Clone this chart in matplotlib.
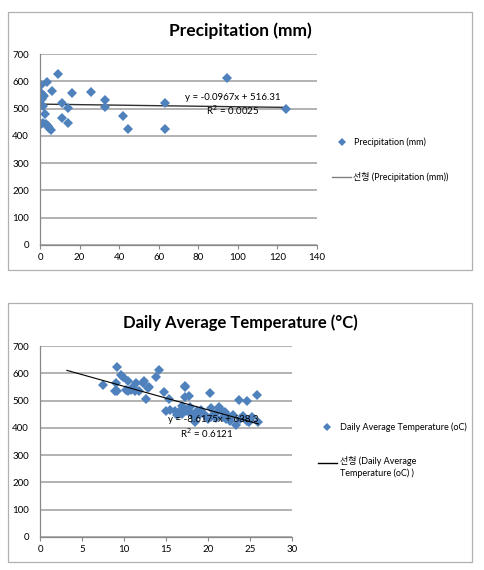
import numpy as np
import matplotlib
matplotlib.use("Agg")
import matplotlib.pyplot as plt
from matplotlib.patches import Rectangle
from matplotlib.lines import Line2D

plt.rcParams['font.family'] = ['Lato', 'Noto Sans CJK KR', 'DejaVu Sans']

# precipitation (mm) vs value
prec_x = [0.3, 3.4, 0.5, 1.5, 0.8, 2.0, 0.5, 1.7, 2.7, 0.3, 1.5, 3.0, 4.0, 4.7, 5.4,
          5.9, 9.3, 11.1, 11.1, 14.3, 14.3, 16.2, 25.6, 32.6, 32.6, 42.0, 44.4,
          63.4, 63.4, 94.6, 124.5]
prec_y = [586, 596, 558, 551, 535, 546, 512, 509, 479, 442, 448, 443, 436, 428, 421,
          566, 625, 519, 464, 503, 448, 557, 561, 530, 506, 474, 424,
          522, 425, 612, 500]
prec_fit = (-0.0967, 516.31)

# daily average temperature vs value
temp_x = [7.5, 9.2, 9.0, 8.9, 9.2, 9.7, 9.9, 10.2, 10.5, 10.8, 10.5, 11.1, 11.3, 11.4,
          11.8, 12.4, 12.3, 12.6, 13.0, 12.8, 13.8, 14.2, 14.8, 15.4, 15.0, 15.5,
          16.1, 16.5, 16.9, 17.3, 17.3, 17.3, 17.7, 16.9, 17.5, 17.9, 18.1, 18.5,
          18.7, 18.5, 20.2, 20.3, 20.4, 19.2, 19.6, 20.9, 21.3, 21.6, 21.8, 22.0,
          22.2, 22.6, 23.0, 23.3, 23.7, 24.6, 23.8, 24.2, 24.6, 24.9, 25.2, 25.8,
          26.0, 19.0, 20.0, 21.0, 22.4, 16.3, 17.0]
temp_y = [557, 624, 563, 536, 536, 594, 585, 539, 573, 539, 536, 551, 536, 566,
          536, 573, 563, 505, 551, 545, 585, 612, 533, 505, 463, 465,
          463, 457, 451, 555, 548, 512, 517, 480, 460, 478, 451, 441,
          460, 423, 529, 472, 441, 465, 446, 455, 475, 465, 441, 459,
          434, 426, 447, 410, 502, 498, 431, 444, 426, 420, 438, 522,
          423, 452, 432, 436, 445, 448, 470]
temp_fit = (-8.6175, 638.3)
temp_fit_range = (3.2, 26.0)

blue = '#4F81BD'
grid_c = '#a6a6a6'
W, H = 484, 570

fig = plt.figure(figsize=(W / 100, H / 100), dpi=100)


def fx(px):
    return px / W


def fy(py):
    return 1 - py / H


# chart area borders
for top, bot in [(12, 270), (303, 562)]:
    fig.patches.append(Rectangle((fx(8), fy(bot)), 464 / W, (bot - top) / H,
                                 transform=fig.transFigure, fill=False,
                                 edgecolor='#b0b0b0', linewidth=0.9))


def style_axes(ax, xmax, xstep):
    ax.set_xlim(0, xmax)
    ax.set_ylim(0, 700)
    ax.set_xticks(np.arange(0, xmax + 1, xstep))
    ax.set_yticks(np.arange(0, 701, 100))
    ax.yaxis.grid(True, color=grid_c, linewidth=1.2)
    ax.set_axisbelow(True)
    for s in ['top', 'right']:
        ax.spines[s].set_visible(False)
    for s in ['left', 'bottom']:
        ax.spines[s].set_color('#888888')
        ax.spines[s].set_linewidth(0.9)
    ax.tick_params(axis='both', labelsize=7, length=3, color='#888888', pad=3)
    ax.tick_params(axis='y', length=0, pad=8)


def legend_entries(mx, my, tx1, lx0, lx1, ly, tx2, ty2, label1, label2, color_line):
    # marker entry
    fig.add_artist(Line2D([fx(mx)], [fy(my)], transform=fig.transFigure,
                          marker='D', markersize=4, color=blue, markeredgewidth=0,
                          linestyle='none'))
    fig.text(fx(tx1), fy(my), label1, ha='left', va='center', fontsize=6.5)
    # trendline entry
    fig.add_artist(Line2D([fx(lx0), fx(lx1)], [fy(ly), fy(ly)],
                          transform=fig.transFigure, color=color_line,
                          linewidth=1.0))
    fig.text(fx(tx2), fy(ty2), label2, ha='left',
             va='top' if '\n' in label2 else 'center',
             fontsize=6.5, linespacing=1.35)


# top chart
ax1 = fig.add_axes([fx(40), fy(245), 277 / W, 191 / H])
style_axes(ax1, 140, 20)
xs = np.array([min(prec_x), max(prec_x)])
ax1.plot(xs, prec_fit[0] * xs + prec_fit[1], color='#303030', linewidth=1.0)
ax1.plot(prec_x, prec_y, linestyle='none', marker='D', markersize=5,
         color=blue, markeredgewidth=0)
ax1.text(97.5, 524, 'y = -0.0967x + 516.31', ha='center', va='bottom', fontsize=7)
ax1.text(97.5, 519, 'R$^2$ = 0.0025', ha='center', va='top', fontsize=7)
fig.text(fx(240), fy(31), 'Precipitation (mm)', ha='center', va='center',
         fontsize=12.5, fontweight='bold')
legend_entries(342, 142, 354, 332, 351, 177, 353, 177,
               'Precipitation (mm)', '선형 (Precipitation (mm))', '#808080')

# bottom chart
ax2 = fig.add_axes([fx(40), fy(537), 252 / W, 191 / H])
style_axes(ax2, 30, 5)
xs2 = np.array(temp_fit_range)
ax2.plot(xs2, temp_fit[0] * xs2 + temp_fit[1], color='black', linewidth=0.8,
         zorder=3)
ax2.plot(temp_x, temp_y, linestyle='none', marker='D', markersize=5,
         color=blue, markeredgewidth=0)
ax2.text(20.6, 432, 'y = -8.6175x + 638.3', ha='center', va='center', fontsize=7,
         zorder=4)
ax2.text(19.9, 381, 'R$^2$ = 0.6121', ha='center', va='center', fontsize=7,
         zorder=4)
fig.text(fx(240), fy(323), 'Daily Average Temperature (°C)', ha='center',
         va='center', fontsize=12, fontweight='bold')
legend_entries(327, 427, 340, 318, 337, 463, 340, 456,
               'Daily Average Temperature (oC)',
               '선형 (Daily Average\nTemperature (oC) )', 'black')

fig.savefig('out.png', dpi=100)
